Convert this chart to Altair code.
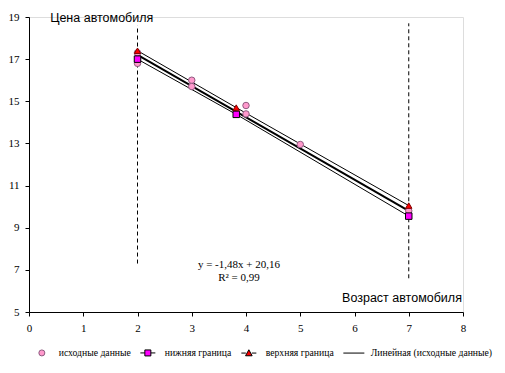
import altair as alt
import pandas as pd

# ---- data ----
data_x = [2, 2, 3, 3, 4, 4, 5, 7]
data_y = [17.3, 16.8, 16.0, 15.7, 14.8, 14.4, 12.95, 9.8]

bound_x = [2, 3.82, 7]
lower_y = [17.0, 14.38, 9.55]
upper_y = [17.4, 14.7, 10.05]

trend_x = [2, 7]
trend_y = [17.2, 9.8]

vline_x = [2, 2, 7, 7]
vline_y = [7.3, 18.6, 6.6, 18.7]
vline_g = ["a", "a", "b", "b"]

series_names = ["исходные данные", "нижняя граница", "верхняя граница", "Линейная (исходные данные)"]
equation = ["y = -1,48x + 20,16", "R² = 0,99"]
eq_x = [3.87, 3.87]
eq_y = [7.23, 6.62]

x_ticks = list(range(0, 9))
y_ticks = [5, 7, 9, 11, 13, 15, 17, 19]

SERIF = "Liberation Serif, Times New Roman, serif"
SANS = "Liberation Sans, Arial, sans-serif"

# ---- tables ----
pts = pd.DataFrame({"x": data_x, "y": data_y})
low = pd.DataFrame({"x": bound_x, "y": lower_y})
up = pd.DataFrame({"x": bound_x, "y": upper_y})
trend = pd.DataFrame({"x": trend_x, "y": trend_y})
vl = pd.DataFrame({"x": vline_x, "y": vline_y, "g": vline_g})
eq = pd.DataFrame({"x": eq_x, "y": eq_y, "t": equation})
titles = pd.DataFrame({
    "x": [0.39, 7.98],
    "y": [18.95, 5.66],
    "t": ["Цена автомобиля", "Возраст автомобиля"],
})
leg = pd.DataFrame({"s": series_names, "x": [0] * 4, "y": [5] * 4})

xs = alt.Scale(domain=[0, 8], nice=False, zero=False)
ys = alt.Scale(domain=[5, 19], nice=False, zero=False)

X = alt.X("x:Q", scale=xs, axis=alt.Axis(
    values=x_ticks, title=None, grid=False, tickSize=4, labelPadding=6,
    labelFont=SERIF, labelFontSize=11, labelColor="black",
    domainColor="black", tickColor="black", labelFlush=False))
Y = alt.Y("y:Q", scale=ys, axis=alt.Axis(
    values=y_ticks, title=None, grid=False, tickSize=4, labelPadding=6,
    labelFont=SERIF, labelFontSize=11, labelColor="black",
    domainColor="black", tickColor="black", labelFlush=False))

vlines = alt.Chart(vl).mark_line(color="black", strokeWidth=1, strokeDash=[4, 3]).encode(
    x=X, y=Y, detail="g:N")

low_line = alt.Chart(low).mark_line(color="black", strokeWidth=1).encode(x=X, y=Y)
up_line = alt.Chart(up).mark_line(color="black", strokeWidth=1).encode(x=X, y=Y)
trend_line = alt.Chart(trend).mark_line(color="black", strokeWidth=2).encode(x=X, y=Y)

circles = alt.Chart(pts).mark_point(shape="circle", filled=True, size=42, fill="#FF99CC",
                                    stroke="#8E5A80", strokeWidth=1, opacity=1).encode(x=X, y=Y)
squares = alt.Chart(low).mark_point(shape="square", filled=True, size=42, fill="#FF00FF",
                                    stroke="#000000", strokeWidth=1, opacity=1).encode(x=X, y=Y)
tris = alt.Chart(up).mark_point(shape="triangle-up", filled=True, size=40, fill="#FF0000",
                                stroke="#800000", strokeWidth=1, opacity=1).encode(x=X, y=Y)

eq_text = alt.Chart(eq).mark_text(font=SERIF, fontSize=11, color="black",
                                  align="center", baseline="middle").encode(x=X, y=Y, text="t:N")

title_l = alt.Chart(titles.iloc[[0]]).mark_text(font=SANS, fontSize=12.5, color="black",
                                                align="left", baseline="middle").encode(x=X, y=Y, text="t:N")
title_r = alt.Chart(titles.iloc[[1]]).mark_text(font=SANS, fontSize=12.5, color="black",
                                                align="right", baseline="middle").encode(x=X, y=Y, text="t:N")

legend_shapes = [
    "circle",
    "M-2.5,0H-1M1,0H2.5M-1,-1H1V1H-1Z",
    "M-2.5,0H-1M1,0H2.5M0,-1.1L1.1,0.9H-1.1Z",
    "M-3.5,0H3.5",
]
legend_fills = ["#FF99CC", "#FF00FF", "#FF0000", "#000000"]
legend_strokes = ["#8E5A80", "#000000", "#000000", "#000000"]

legend_layer = alt.Chart(leg).mark_point(filled=False, strokeWidth=1,
                                         opacity=0, size=36).encode(
    x=X, y=Y,
    shape=alt.Shape("s:N", scale=alt.Scale(domain=series_names, range=legend_shapes),
                    legend=alt.Legend(
                        title=None, orient="none", legendX=8, legendY=331,
                        direction="horizontal", padding=0,
                        labelFont=SERIF, labelFontSize=9.7, labelColor="black",
                        symbolSize=36, symbolStrokeWidth=1,
                        symbolOpacity=1, labelOffset=12, columnPadding=7)),
    fill=alt.Fill("s:N", scale=alt.Scale(domain=series_names, range=legend_fills), legend=None),
    stroke=alt.Stroke("s:N", scale=alt.Scale(domain=series_names, range=legend_strokes), legend=None),
)

chart = alt.layer(
    vlines, low_line, up_line, trend_line, circles, squares, tris,
    eq_text, title_l, title_r, legend_layer,
).properties(
    width=434, height=295,
    autosize=alt.AutoSizeParams(type="none"),
    padding={"left": 21, "top": 9, "right": 34, "bottom": 55},
).configure_view(stroke=None).configure(background="white")

chart.save("out.html", embed_options={"renderer": "svg", "actions": False})
